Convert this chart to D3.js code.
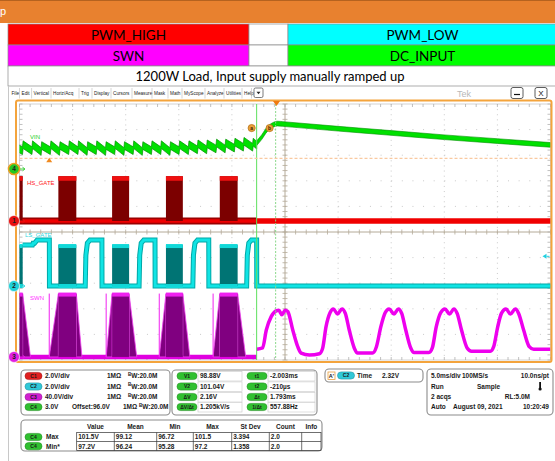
<!DOCTYPE html>
<html><head><meta charset="utf-8">
<script src="https://cdn.jsdelivr.net/npm/d3@7"></script>
<style>body{margin:0;background:#fff;overflow:hidden}svg{display:block}</style>
</head><body>
<svg id="c" width="555" height="461"></svg>
<script>
// ---------------- DATA ----------------
const legendLeft = ["PWM_HIGH", "SWN"];
const legendRight = ["PWM_LOW", "DC_INPUT"];
const legendLeftColors = ["#ff0000", "#ff00ff"];
const legendRightColors = ["#00ffff", "#00ff00"];
const caption = "1200W Load, Input supply manually ramped up";
const menuItems = ["File","Edit","Vertical","Horiz/Acq","Trig","Display","Cursors","Measure","Mask","Math","MyScope","Analyze","Utilities","Help"];
const menuX = [11.5,21.5,33.6,53,81,94,113,134,154,170,184,207,226,244];

// channel setup (position in divisions, volts/div, offset)
const chPos = [0.43, -2.11, -4.88, 2.46];
const chVdiv = [2, 2, 40, 3];
const chOff = [0, 0, 0, 96];
const chLabels = ["HS_GATE", "LS_GATE", "SWN", "VIN"];

// switching windows (ms) shared by HS / LS / SWN
const winStart = [-1, 3.66, 8.72, 13.79, 18.86];
const winEnd   = [0.3, 5.35, 10.32, 15.38, 20.54];
const cursorT1 = 22.33, cursorT2 = 24.12, trigT = 24.2;

// VIN (ch4) sawtooth before cursor: tooth time, upper-envelope peak and pre-jump level (V)
const vinToothT = [0.28,1.17,2.03,2.9,3.76,4.63,5.5,6.36,7.22,8.1,8.96,9.83,10.7,11.56,12.42,13.3,14.16,15.02,15.9,16.75,17.62,18.5,19.36,20.23,21.08,21.95];
const vinToothHi = [99.3,99.3,99.2,99.3,99.2,99.3,99.3,99.2,99.3,99.2,99.3,99.2,99.3,99.2,99.3,99.3,99.2,99.3,99.3,99.4,99.4,99.5,99.5,99.6,99.7,99.6];
const vinToothLo = [98.6,98.6,98.5,98.6,98.5,98.6,98.6,98.5,98.6,98.5,98.6,98.5,98.6,98.5,98.6,98.6,98.5,98.6,98.6,98.7,98.7,98.8,98.8,98.9,99.0,99.0];
// VIN after cursor
const vinPostT = [22.33,22.8,23.3,23.8,24.3,24.8,30,35,40,45,50];
const vinPostV = [99.3,100.0,100.9,101.4,101.6,101.55,101.0,100.5,100.0,99.55,99.1];

// HS gate levels (V)
const hsHigh = 3.5, hsTop = 3.3;
// LS gate high segments (ms) and levels
const lsHighStart = [1.22, 6.19, 11.26, 16.32, 21.39];
const lsHighEnd   = [2.81, 7.76, 12.76, 17.82, 22.33];
const lsHigh = 3.6, lsBlock = 3.2;
// SWN pre-cursor
const swnSpikeT = [2.8, 8.16, 13.16, 18.23];
const swnFallEnd = [1.03, 5.88, 11.04, 16.04, 21.3];
const swnHigh = 99;
// SWN after cursor
const swnT = [22.33,22.89,23.24,23.7,24.17,24.42,24.7,25.02,25.26,25.73,26.2,26.52,27.3,28.24,28.55,28.86,29.24,29.55,29.95,30.37,30.68,31.05,31.52,31.83,33.24,33.61,34.02,34.43,34.8,35.27,35.68,35.99,36.37,36.84,37.15,38.56,38.87,39.24,39.65,40.06,40.5,40.9,41.21,41.62,42.15,42.56,44.34,44.65,45.03,45.38,45.81,46.22,46.69,47.0,47.47,48.0,48.41,50];
const swnV = [12,14,42,63,72,73,66,73,71,42,16,6,3,5,14,47,69,75,67,75,68,42,14,6,6,16,47,69,75,67,75,68,42,14,7,7,14,47,69,75,67,75,68,42,14,9,9,16,47,68,75,67,75,68,42,16,12,12];

// cursors
const hCursorV = 97.25;
const cursorMarks = [{l:"a", t:21.86, v:100.8}, {l:"b", t:23.55, v:100.8}];
const trigLevelC2 = 2.32;

// readouts
const vertRows = [
  {c:"C1", col:"#e02020", txt:"2.0V/div"},
  {c:"C2", col:"#30c8d8", txt:"2.0V/div"},
  {c:"C3", col:"#d020d0", txt:"40.0V/div"},
  {c:"C4", col:"#30c030", txt:"3.0V"}];
const curLabelsV = ["V1","V2","\u0394V","\u0394V/\u0394t"];
const curValsV = ["98.88V","101.04V","2.16V","1.205kV/s"];
const curLabelsT = ["t1","t2","\u0394t","1/\u0394t"];
const curValsT = ["-2.003ms","-210\u00b5s","1.793ms","557.88Hz"];
const acqRows = [["5.0ms/div","100MS/s","10.0ns/pt"],["Run","Sample",""],["2 acqs","","RL:5.0M"],["Auto","August 09, 2021","10:20:49"]];
const measHeaders = ["Value","Mean","Min","Max","St Dev","Count","Info"];
const measRows = [
  {name:"Max", vals:["101.5V","99.12","96.72","101.5","3.394","2.0",""]},
  {name:"Min*", vals:["97.2V","96.24","95.28","97.2","1.358","2.0",""]}];

// ---------------- DRAW ----------------
const svg = d3.select("#c");
const FONT = "'Liberation Sans', Arial, sans-serif";
const X0 = 19.5, X1 = 550.5, YT = 104, YB = 360;
const x = d3.scaleLinear().domain([0, 50]).range([X0, X1]);
const yd = d3.scaleLinear().domain([-5, 5]).range([YB, YT]);
const yCh = i => v => yd(chPos[i] + (v - chOff[i]) / chVdiv[i]);
const y1 = yCh(0), y2 = yCh(1), y3 = yCh(2), y4 = yCh(3);

svg.append("rect").attr("width",555).attr("height",461).attr("fill","#fff");

// top orange bar
svg.append("rect").attr("x",0).attr("y",0).attr("width",555).attr("height",23).attr("fill","#e8812f");
svg.append("rect").attr("x",0).attr("y",0).attr("width",555).attr("height",1).attr("fill","#b5621f");
svg.append("text").attr("x",0).attr("y",15).attr("font-family",FONT).attr("font-size",11).attr("fill","#fff").text("p");

// legend table
const LX0 = 8, LXm1 = 249, LXm2 = 288, LX1 = 555;
const rowsY = [24, 45, 66, 86];
const lg = svg.append("g");
for (let r = 0; r < 2; r++) {
  lg.append("rect").attr("x",LX0).attr("y",rowsY[r]).attr("width",LXm1-LX0).attr("height",rowsY[r+1]-rowsY[r]).attr("fill",legendLeftColors[r]).attr("stroke","#8a8a8a").attr("stroke-width",0.7);
  lg.append("rect").attr("x",LXm1).attr("y",rowsY[r]).attr("width",LXm2-LXm1).attr("height",rowsY[r+1]-rowsY[r]).attr("fill","#fff").attr("stroke","#8a8a8a").attr("stroke-width",0.7);
  lg.append("rect").attr("x",LXm2).attr("y",rowsY[r]).attr("width",LX1-LXm2+2).attr("height",rowsY[r+1]-rowsY[r]).attr("fill",legendRightColors[r]).attr("stroke","#8a8a8a").attr("stroke-width",0.7);
  lg.append("text").attr("x",(LX0+LXm1)/2).attr("y",rowsY[r]+15.5).attr("text-anchor","middle").attr("font-family","Lato, 'Open Sans', sans-serif").attr("font-size",13.5).attr("fill","#000").text(legendLeft[r]);
  lg.append("text").attr("x",(LXm2+LX1)/2+1).attr("y",rowsY[r]+15.5).attr("text-anchor","middle").attr("font-family","Lato, 'Open Sans', sans-serif").attr("font-size",13.5).attr("fill","#000").text(legendRight[r]);
}
lg.append("rect").attr("x",LX0).attr("y",rowsY[2]).attr("width",LX1-LX0+2).attr("height",rowsY[3]-rowsY[2]).attr("fill","#fff").attr("stroke","#8a8a8a").attr("stroke-width",0.7);
lg.append("text").attr("x",270).attr("y",rowsY[2]+14.5).attr("text-anchor","middle").attr("font-family","Lato, 'Open Sans', sans-serif").attr("font-size",13).attr("fill","#000").text(caption);

// left frame line
svg.append("line").attr("x1",8.5).attr("x2",8.5).attr("y1",86).attr("y2",461).attr("stroke","#c8c8c8").attr("stroke-width",1);

// menu bar
const mg = svg.append("g").attr("font-family",FONT).attr("font-size",4.7).attr("fill","#222");
menuItems.forEach((m,i) => {
  mg.append("text").attr("x",menuX[i]).attr("y",94.5).text(m);
  const nx = i < menuItems.length-1 ? menuX[i+1] : 253.5;
  mg.append("line").attr("x1",nx-2).attr("x2",nx-2).attr("y1",88).attr("y2",98.5).attr("stroke","#bbb").attr("stroke-width",0.6);
});
mg.append("rect").attr("x",254).attr("y",88).attr("width",9).attr("height",9.5).attr("rx",1.5).attr("fill","#fff").attr("stroke","#444").attr("stroke-width",0.7);
mg.append("path").attr("d","M256.5,91.8 L260.5,91.8 L258.5,94.3 Z").attr("fill","#222");
svg.append("text").attr("x",457).attr("y",96.5).attr("font-family",FONT).attr("font-size",9).attr("fill","#b8b8b8").text("Tek");
[[511,"_"],[535,"X"]].forEach(([bx,s]) => {
  svg.append("rect").attr("x",bx).attr("y",87.5).attr("width",12).attr("height",11).attr("rx",2).attr("fill","#fff").attr("stroke","#333").attr("stroke-width",0.8);
  if (s === "_") svg.append("line").attr("x1",bx+3).attr("x2",bx+9).attr("y1",94.5).attr("y2",94.5).attr("stroke","#111").attr("stroke-width",1.2);
  else svg.append("text").attr("x",bx+6).attr("y",96.3).attr("text-anchor","middle").attr("font-family",FONT).attr("font-size",8).attr("fill","#111").text("X");
});

// graticule
const grid = svg.append("g");
grid.append("rect").attr("x",X0).attr("y",YT).attr("width",X1-X0).attr("height",YB-YT).attr("fill","#fff").attr("stroke","#c9c9c9").attr("stroke-width",0.8);
d3.range(1,10).forEach(i => {
  if (i === 5) return;
  grid.append("line").attr("x1",x(i*5)).attr("x2",x(i*5)).attr("y1",YT).attr("y2",YB).attr("stroke","#c4c4c4").attr("stroke-width",0.9).attr("stroke-dasharray","1,4.12");
});
d3.range(-4,5).forEach(j => {
  if (j === 0) return;
  grid.append("line").attr("x1",X0).attr("x2",X1).attr("y1",yd(j)).attr("y2",yd(j)).attr("stroke","#c4c4c4").attr("stroke-width",0.9).attr("stroke-dasharray","1,9.62");
});
grid.append("line").attr("x1",x(25)).attr("x2",x(25)).attr("y1",YT).attr("y2",YB).attr("stroke","#b4aa98").attr("stroke-width",1);
grid.append("line").attr("x1",X0).attr("x2",X1).attr("y1",yd(0)).attr("y2",yd(0)).attr("stroke","#b4aa98").attr("stroke-width",1);
d3.range(0,50.01,1).forEach(t => {
  grid.append("line").attr("x1",x(t)).attr("x2",x(t)).attr("y1",yd(0)-2.5).attr("y2",yd(0)+2.5).attr("stroke","#b4aa98").attr("stroke-width",0.8);
  grid.append("line").attr("x1",x(t)).attr("x2",x(t)).attr("y1",YT).attr("y2",YT+3).attr("stroke","#b0b0b0").attr("stroke-width",0.8);
  grid.append("line").attr("x1",x(t)).attr("x2",x(t)).attr("y1",YB-3).attr("y2",YB).attr("stroke","#b0b0b0").attr("stroke-width",0.8);
});
d3.range(-5,5.01,0.2).forEach(j => {
  grid.append("line").attr("x1",x(25)-2.5).attr("x2",x(25)+2.5).attr("y1",yd(j)).attr("y2",yd(j)).attr("stroke","#b4aa98").attr("stroke-width",0.8);
  grid.append("line").attr("x1",X0).attr("x2",X0+3).attr("y1",yd(j)).attr("y2",yd(j)).attr("stroke","#b0b0b0").attr("stroke-width",0.8);
  grid.append("line").attr("x1",X1-3).attr("x2",X1).attr("y1",yd(j)).attr("y2",yd(j)).attr("stroke","#b0b0b0").attr("stroke-width",0.8);
});

svg.append("clipPath").attr("id","pc").append("rect").attr("x",X0).attr("y",YT-1).attr("width",X1-X0).attr("height",YB-YT+2);
const tr = svg.append("g").attr("clip-path","url(#pc)");

// ---- VIN (ch4)
const vinPre = [];
vinToothT.forEach((t,k) => { vinPre.push([t, vinToothLo[k]]); vinPre.push([t+0.06, vinToothHi[k]]); });
vinPre.unshift([-0.6, 99.2]);
vinPre.push([cursorT1, 99.25]);
const vinBandPre = 0.9, vinBandPost = 0.55;
tr.append("path").datum(vinPre).attr("d", d3.area().x(d=>x(d[0])).y0(d=>y4(d[1]-vinBandPre)).y1(d=>y4(d[1])))
  .attr("fill","#00e000").attr("stroke","#009000").attr("stroke-width",0.7);
const vinPost = vinPostT.map((t,i)=>[t, vinPostV[i]]);
tr.append("path").datum(vinPost).attr("d", d3.area().x(d=>x(d[0])).y0(d=>y4(d[1]-vinBandPost)).y1(d=>y4(d[1])).curve(d3.curveMonotoneX))
  .attr("fill","#00e000").attr("stroke","#009000").attr("stroke-width",0.6);

// ---- HS gate (ch1)
tr.append("line").attr("x1",x(-1)).attr("x2",x(cursorT1)).attr("y1",y1(0)).attr("y2",y1(0)).attr("stroke","#9a0000").attr("stroke-width",7);
tr.append("line").attr("x1",x(-1)).attr("x2",x(cursorT1)).attr("y1",y1(0)).attr("y2",y1(0)).attr("stroke","#f00000").attr("stroke-width",3.5);
tr.append("line").attr("x1",x(cursorT1)).attr("x2",x(51)).attr("y1",y1(0)).attr("y2",y1(0)).attr("stroke","#f00000").attr("stroke-width",5.5);
winStart.forEach((s,k) => {
  const e = winEnd[k];
  tr.append("rect").attr("x",x(s)).attr("y",y1(hsHigh)).attr("width",x(e)-x(s)).attr("height",y1(0)-y1(hsHigh)).attr("fill","#7c0000");
  tr.append("rect").attr("x",x(s)).attr("y",y1(hsHigh)).attr("width",x(e)-x(s)).attr("height",y1(hsTop)-y1(hsHigh)+2).attr("fill","#f01010");
});

// ---- LS gate (ch2)
const lsPts = [[0.3,lsBlock]];
lsHighStart.forEach((s,k) => {
  const base = k === 0 ? lsBlock : 0;
  lsPts.push([s,base],[s+0.06,2.4 > base ? 2.4 : base + 0.15],[s+0.2,3.35],[s+0.45,lsHigh],[lsHighEnd[k],lsHigh],[lsHighEnd[k]+0.01,0]);
  if (k < winStart.length-1) lsPts.push([winStart[k+1],0]);
});
lsPts.push([51,0]);
tr.append("path").datum(lsPts).attr("d", d3.line().x(d=>x(d[0])).y(d=>y2(d[1]))).attr("fill","none").attr("stroke","#00a8a8").attr("stroke-width",5);
tr.append("path").datum(lsPts).attr("d", d3.line().x(d=>x(d[0])).y(d=>y2(d[1]))).attr("fill","none").attr("stroke","#10e4e4").attr("stroke-width",3);
winStart.forEach((s,k) => {
  const e = winEnd[k];
  tr.append("rect").attr("x",x(s)).attr("y",y2(lsBlock)).attr("width",x(e)-x(s)).attr("height",y2(0)-y2(lsBlock)).attr("fill","#007474");
  tr.append("rect").attr("x",x(s)).attr("y",y2(lsBlock)-1).attr("width",x(e)-x(s)).attr("height",4).attr("fill","#10d8d8");
  tr.append("rect").attr("x",x(s)).attr("y",y2(0)-2).attr("width",x(e)-x(s)).attr("height",4).attr("fill","#10d8d8");
});

// ---- SWN (ch3)
tr.append("line").attr("x1",x(-1)).attr("x2",x(cursorT1)).attr("y1",y3(0)).attr("y2",y3(0)).attr("stroke","#e000e0").attr("stroke-width",4.5);
winStart.forEach((s,k) => {
  const e = winEnd[k], f = swnFallEnd[k];
  tr.append("path").attr("d",`M${x(e)},${y3(swnHigh)} L${x(f)},${y3(0)} L${x(e)},${y3(0)} Z`).attr("fill","#800080").attr("stroke","#f040f0").attr("stroke-width",0.8);
  if (k > 0) {
    const sp = swnSpikeT[k-1];
    tr.append("path").attr("d",`M${x(sp)},${y3(0)} L${x(s)},${y3(swnHigh)} L${x(s)},${y3(0)} Z`).attr("fill","#800080").attr("stroke","#f040f0").attr("stroke-width",0.8);
    tr.append("line").attr("x1",x(sp)).attr("x2",x(sp)).attr("y1",y3(0)).attr("y2",y3(swnHigh)).attr("stroke","#f020f0").attr("stroke-width",1);
  }
  tr.append("rect").attr("x",x(s)).attr("y",y3(swnHigh)).attr("width",x(e)-x(s)).attr("height",y3(0)-y3(swnHigh)).attr("fill","#800080");
  tr.append("rect").attr("x",x(s)).attr("y",y3(swnHigh)-1).attr("width",x(e)-x(s)).attr("height",4).attr("fill","#f020f0");
});
const swnPost = swnT.map((t,i)=>[t, swnV[i]]);
tr.append("path").datum(swnPost).attr("d", d3.line().x(d=>x(d[0])).y(d=>y3(d[1])).curve(d3.curveMonotoneX)).attr("fill","none").attr("stroke","#ee00ee").attr("stroke-width",3.5);

// ---- cursors
tr.append("line").attr("x1",x(cursorT1)).attr("x2",x(cursorT1)).attr("y1",YT).attr("y2",YB).attr("stroke","#5ee05e").attr("stroke-width",1);
tr.append("line").attr("x1",x(cursorT2)).attr("x2",x(cursorT2)).attr("y1",YT).attr("y2",YB).attr("stroke","#8ad88a").attr("stroke-width",1).attr("stroke-dasharray","2,1.5");
tr.append("line").attr("x1",X0).attr("x2",X1).attr("y1",y4(hCursorV)).attr("y2",y4(hCursorV)).attr("stroke","#f9c9a0").attr("stroke-width",1.4).attr("stroke-dasharray","3,2");
cursorMarks.forEach(m => {
  svg.append("circle").attr("cx",x(m.t)).attr("cy",y4(m.v)).attr("r",3.6).attr("fill","#e9a13a").attr("stroke","#b06a10").attr("stroke-width",0.7);
  svg.append("text").attr("x",x(m.t)).attr("y",y4(m.v)+2).attr("text-anchor","middle").attr("font-family",FONT).attr("font-size",5).attr("font-weight","bold").attr("fill","#402000").text(m.l);
});
svg.append("path").attr("d",`M${x(2.8)-3},${y4(hCursorV)+4} L${x(2.8)+3},${y4(hCursorV)+4} L${x(2.8)},${y4(hCursorV)-0.5} Z`).attr("fill","#f08a20");

// orange frame
svg.append("rect").attr("x",16).attr("y",100.5).attr("width",535.5).attr("height",261.5).attr("rx",2).attr("fill","none").attr("stroke","#f4a43c").attr("stroke-width",2);
svg.append("path").attr("d",`M${x(trigT)-3.5},${101} L${x(trigT)+3.5},${101} L${x(trigT)},${106} Z`).attr("fill","#f07a10");
svg.append("path").attr("d",`M${X1-8},${y2(trigLevelC2)} L${X1-4},${y2(trigLevelC2)-2.5} L${X1-4},${y2(trigLevelC2)+2.5} Z`).attr("fill","#20d0e0");
svg.append("line").attr("x1",X1-4).attr("x2",X1-1).attr("y1",y2(trigLevelC2)).attr("y2",y2(trigLevelC2)).attr("stroke","#20d0e0").attr("stroke-width",1);

// channel labels
const labelCol = ["#ff2020","#30d8e0","#ff30ff","#20d020"];
const labelPos = [[27,-38],[25,-51],[30,-59],[30,-32]];
[0,1,2,3].forEach(i => {
  const yy = yCh(i)(chOff[i]);
  svg.append("text").attr("x",labelPos[i][0]).attr("y",yy+labelPos[i][1]+2).attr("font-family",FONT).attr("font-size",6).attr("fill",labelCol[i]).text(chLabels[i]);
});
const markCol = ["#e81010","#20d0d8","#e020e0","#22c822"];
[0,1,2,3].forEach(i => {
  const yy = yCh(i)(chOff[i]);
  svg.append("circle").attr("cx",14).attr("cy",yy).attr("r",5.5).attr("fill",markCol[i]).attr("stroke", i===3 ? "#e8a020" : "#ffffff").attr("stroke-width", i===3 ? 1.6 : 0.6);
  svg.append("text").attr("x",14).attr("y",yy+2.2).attr("text-anchor","middle").attr("font-family",FONT).attr("font-size",6.5).attr("font-weight","bold").attr("fill","#202020").text(String(i+1));
  svg.append("path").attr("d",`M20,${yy} L24,${yy} M22.5,${yy-1.8} L25,${yy} L22.5,${yy+1.8}`).attr("fill","none").attr("stroke",markCol[i]).attr("stroke-width",0.9);
});

// ---------------- readout panels ----------------
const pf = svg.append("g").attr("font-family",FONT).attr("font-size",6.5).attr("font-weight","bold").attr("fill","#1a1a1a");
function panel(x0,y0,w,h){ pf.append("rect").attr("x",x0).attr("y",y0).attr("width",w).attr("height",h).attr("rx",4).attr("fill","#fff").attr("stroke","#8c8c8c").attr("stroke-width",1.1); }
function pill(cx,cy,w,col,label){
  pf.append("rect").attr("x",cx-w/2).attr("y",cy-3.6).attr("width",w).attr("height",7.2).attr("rx",3.6).attr("fill",col).attr("stroke",d3.color(col).darker(0.8)).attr("stroke-width",0.6);
  pf.append("text").attr("x",cx).attr("y",cy+1.9).attr("text-anchor","middle").attr("font-size",5).attr("fill","#1a1a1a").text(label);
}
function txt(xx,yy,s,anchor){ return pf.append("text").attr("x",xx).attr("y",yy).attr("text-anchor",anchor||"start").text(s); }
function bw(xx,yy){ const t = pf.append("text").attr("x",xx).attr("y",yy); t.append("tspan").attr("font-size",4.5).attr("dy",-2.5).text("B"); t.append("tspan").attr("dy",2.5).text("W:20.0M"); }

const rowY = [376, 386.5, 397, 407];
panel(21,370,149,45);
vertRows.forEach((r,i) => {
  pill(33.5,rowY[i],17,r.col,r.c);
  txt(45,rowY[i]+2.4,r.txt);
  if (i < 3) { txt(107,rowY[i]+2.4,"1M\u03a9"); bw(128,rowY[i]+2.4); }
  else { txt(72,rowY[i]+2.4,"Offset:96.0V"); txt(123,rowY[i]+2.4,"1M\u03a9"); bw(139,rowY[i]+2.4); }
});

panel(172,370,145,45);
curLabelsV.forEach((l,i) => {
  pill(187,rowY[i],20,"#30c030",l);
  pf.append("rect").attr("x",198).attr("y",rowY[i]-4.6).attr("width",44).attr("height",9.6).attr("fill","#fff").attr("stroke","#c8c8c8").attr("stroke-width",0.6);
  txt(200,rowY[i]+2.4,curValsV[i]);
  pill(257,rowY[i],20,"#30c030",curLabelsT[i]);
  pf.append("rect").attr("x",268).attr("y",rowY[i]-4.6).attr("width",47).attr("height",9.6).attr("fill","#fff").attr("stroke","#c8c8c8").attr("stroke-width",0.6);
  txt(270,rowY[i]+2.4,curValsT[i]);
});

panel(325,369,98,13);
pf.append("rect").attr("x",328).attr("y",372).attr("width",7).attr("height",7.5).attr("fill","#fff").attr("stroke","#e8a040").attr("stroke-width",0.8);
txt(331.5,378.3,"A'","middle").attr("font-size",5.5);
pill(346,375.5,17,"#30c8d8","C2");
txt(357,378.2,"Time");
txt(382,378.2,"2.32V");

panel(427,369,126,46);
acqRows.forEach((r,i) => {
  const yy = rowY[i]+2.4;
  txt(431,yy,r[0]);
  if (i === 0) { txt(462,yy,r[1]); txt(549,yy,r[2],"end"); }
  if (i === 1) { txt(477,yy,r[1]); }
  if (i === 2) { txt(530,yy,r[2],"end"); }
  if (i === 3) { txt(453,yy,r[1]); txt(549,yy,r[2],"end"); }
});
pf.append("rect").attr("x",539.2).attr("y",382).attr("width",1.8).attr("height",6).attr("fill","#111");
pf.append("circle").attr("cx",540.1).attr("cy",389).attr("r",1.6).attr("fill","#111");

panel(21,420,301,31);
const colX = [76.7,114.3,156.7,193.3,231.7,269.3,301.7,321];
measHeaders.forEach((h,i) => txt((colX[i]+colX[i+1])/2, 428.8, h, "middle"));
pf.append("rect").attr("x",colX[0]).attr("y",432.5).attr("width",colX[7]-colX[0]).attr("height",18).attr("fill","none").attr("stroke","#333").attr("stroke-width",0.7);
pf.append("line").attr("x1",colX[0]).attr("x2",colX[7]).attr("y1",441.5).attr("y2",441.5).attr("stroke","#333").attr("stroke-width",0.7);
colX.slice(1,7).forEach(cx => pf.append("line").attr("x1",cx).attr("x2",cx).attr("y1",432.5).attr("y2",450.5).attr("stroke","#333").attr("stroke-width",0.7));
measRows.forEach((r,i) => {
  const cy = 437 + i*9.2;
  pill(33.5,cy,17,"#30c030","C4");
  txt(46,cy+2.4,r.name);
  r.vals.forEach((v,j) => txt(colX[j]+1.5, cy+2.4, v));
});
</script>
</body></html>
